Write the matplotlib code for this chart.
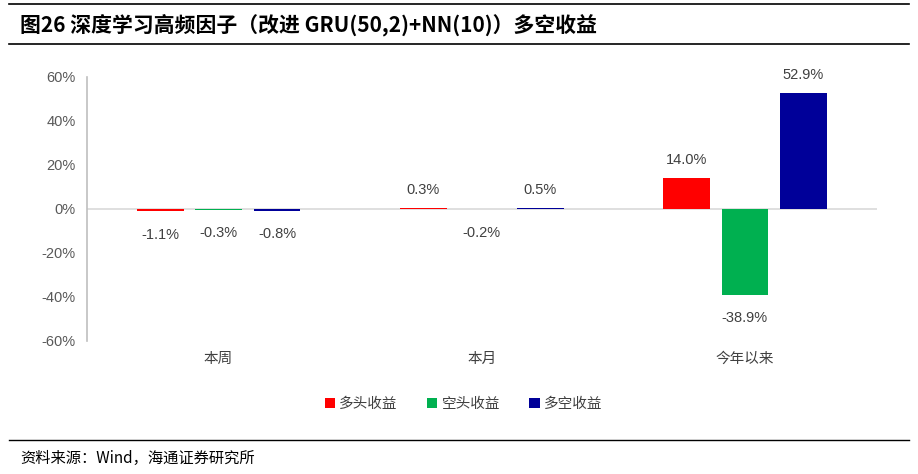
import matplotlib
matplotlib.use("Agg")
import matplotlib.pyplot as plt
import numpy as np

plt.rcParams['font.family'] = ['Noto Sans CJK SC', 'DejaVu Sans']

categories = ["本周", "本月", "今年以来"]
series_names = ["多头收益", "空头收益", "多空收益"]
long_ret = [-1.1, 0.3, 14.0]
short_ret = [-0.3, -0.2, -38.9]
ls_ret = [-0.8, 0.5, 52.9]
colors = ["#FF0000", "#00B050", "#000099"]
yticks = [-60, -40, -20, 0, 20, 40, 60]

fig = plt.figure(figsize=(9.18, 4.74), dpi=100)
ax = fig.add_axes([0.0948, 0.2806, 0.860, 0.557])

x = np.arange(len(categories))
offsets = [-0.222, 0.0, 0.222]
width = 0.178
for vals, name, col, off in zip([long_ret, short_ret, ls_ret], series_names, colors, offsets):
    bars = ax.bar(x + off, vals, width, color=col, label=name)
    for xi, v in zip(x + off, vals):
        if v >= 0:
            ax.text(xi, v + 5.0, f"{v:.1f}%", ha="center", va="bottom", fontsize=10.5,
                    color="#404040", family=["Liberation Sans", "DejaVu Sans"])
        else:
            ax.text(xi, v - 7.5, f"{v:.1f}%", ha="center", va="top", fontsize=10.5,
                    color="#404040", family=["Liberation Sans", "DejaVu Sans"])

ax.set_xlim(-0.5, 2.5)
ax.set_ylim(-60, 60)
ax.set_yticks(yticks)
ax.set_yticklabels([f"{t}%" for t in yticks], family=["Liberation Sans", "DejaVu Sans"],
                   fontsize=10.5, color="#595959")
ax.set_xticks(x)
ax.set_xticklabels(categories, fontsize=10.5, color="#404040")
ax.tick_params(axis="both", length=0, pad=8)
ax.tick_params(axis="x", pad=8)
for s in ["top", "right", "bottom"]:
    ax.spines[s].set_visible(False)
ax.spines["left"].set_color("#BFBFBF")
ax.spines["left"].set_linewidth(1.2)
ax.axhline(0, color="#D9D9D9", lw=1.2, zorder=0)

leg = fig.legend(loc="center", bbox_to_anchor=(0.505, 0.147), ncol=3, frameon=False,
                 fontsize=10.5, handlelength=0.7, handleheight=0.7, handletextpad=0.3,
                 columnspacing=2.0)
for t in leg.get_texts():
    t.set_color("#404040")

# title and source
fig.add_artist(plt.Line2D([0.01, 0.99], [1 - 4/474, 1 - 4/474], color="black", lw=1.2))
fig.add_artist(plt.Line2D([0.01, 0.99], [1 - 44/474, 1 - 44/474], color="black", lw=1.2))
fig.text(0.022, 1 - 25/474, "图26 深度学习高频因子（改进 GRU(50,2)+NN(10)）多空收益", fontsize=15,
         fontweight="bold", va="center", ha="left")
fig.add_artist(plt.Line2D([0.01, 0.99], [1 - 440/474, 1 - 440/474], color="black", lw=1.0))
fig.text(0.022, 1 - 458/474, "资料来源：Wind，海通证券研究所", fontsize=11, va="center", ha="left")

fig.savefig("out.png", dpi=100)
